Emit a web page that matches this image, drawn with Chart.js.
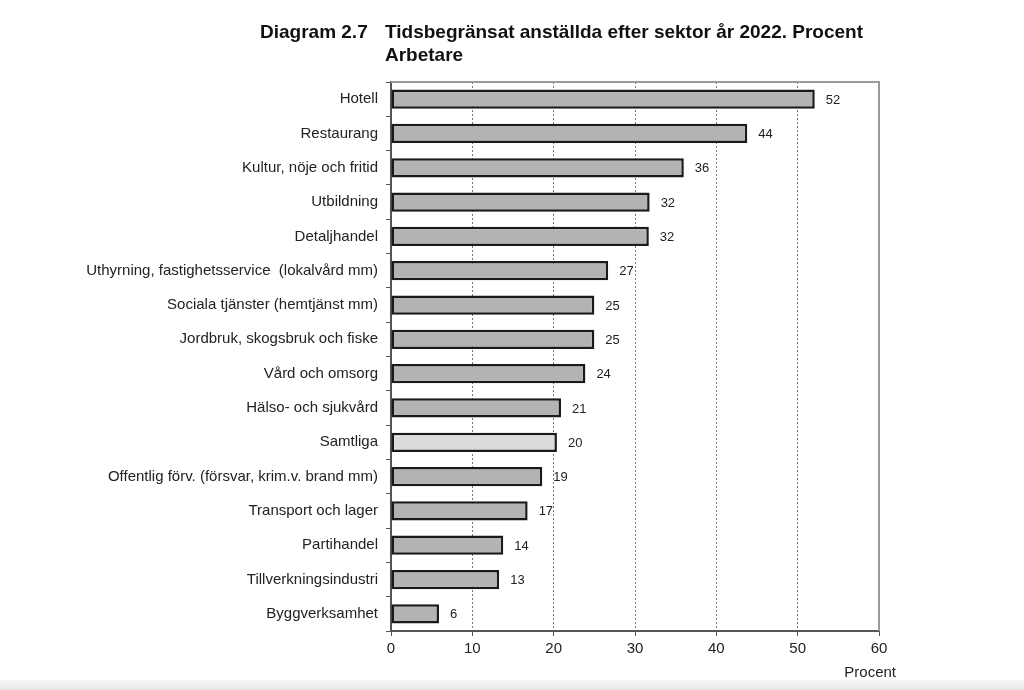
<!DOCTYPE html>
<html lang="sv">
  <head>
    <meta charset="UTF-8" />
    <title>Diagram 2.7</title>
    <style>
      html, body { margin: 0; padding: 0; background: #fff; }
      .wrap { position: relative; width: 1024px; height: 690px; }
      .foot {
        position: absolute; left: 0; right: 0; bottom: 0; height: 10px;
        background: linear-gradient(#f6f6f6, #e6e6e6);
      }
    </style>
  </head>
  <body>
    <div class="wrap">
      <canvas id="mychart" width="1024" height="690"></canvas>
      <div class="foot"></div>
    </div>

    <script src="https://cdn.jsdelivr.net/npm/chart.js@4/dist/chart.umd.min.js"></script>
    <script>
      // sektorer, uppifrån och ned
      const sectors = [
        "Hotell",
        "Restaurang",
        "Kultur, nöje och fritid",
        "Utbildning",
        "Detaljhandel",
        "Uthyrning, fastighetsservice  (lokalvård mm)",
        "Sociala tjänster (hemtjänst mm)",
        "Jordbruk, skogsbruk och fiske",
        "Vård och omsorg",
        "Hälso- och sjukvård",
        "Samtliga",
        "Offentlig förv. (försvar, krim.v. brand mm)",
        "Transport och lager",
        "Partihandel",
        "Tillverkningsindustri",
        "Byggverksamhet",
      ];
      // andel tidsbegränsat anställda, procent (avläst)
      const shares = [52.1, 43.8, 36.0, 31.8, 31.7, 26.7, 25.0, 25.0, 23.9, 20.9, 20.4, 18.6, 16.8, 13.8, 13.3, 5.9];
      const shareLabels = ["52", "44", "36", "32", "32", "27", "25", "25", "24", "21", "20", "19", "17", "14", "13", "6"];
      const xTicks = [0, 10, 20, 30, 40, 50, 60];

      const FONT = "'Liberation Sans', Arial, sans-serif";

      // rubrik, värden vid staplarna, ram och axeltitel
      const extras = {
        id: "extras",
        afterDatasetsDraw(chart) {
          const ctx = chart.ctx;
          const meta = chart.getDatasetMeta(0);
          ctx.save();
          ctx.fillStyle = "#222";
          ctx.font = "13px " + FONT;
          ctx.textBaseline = "middle";
          ctx.textAlign = "left";
          meta.data.forEach((bar, i) => {
            ctx.fillText(shareLabels[i], bar.x + 11, bar.y + 1);
          });
          ctx.restore();
        },
        afterDraw(chart) {
          const ctx = chart.ctx;
          const a = chart.chartArea;
          ctx.save();
          // grå ram uppe och till höger
          ctx.strokeStyle = "#9a9a9a";
          ctx.lineWidth = 2;
          ctx.beginPath();
          ctx.moveTo(a.left, a.top);
          ctx.lineTo(a.right, a.top);
          ctx.lineTo(a.right, a.bottom);
          ctx.stroke();

          ctx.fillStyle = "#111";
          ctx.font = "bold 19px " + FONT;
          ctx.textBaseline = "alphabetic";
          ctx.textAlign = "left";
          ctx.fillText("Diagram 2.7", 260, 38);
          ctx.fillText("Tidsbegränsat anställda efter sektor år 2022. Procent", 385, 38);
          ctx.fillText("Arbetare", 385, 61);

          ctx.fillStyle = "#222";
          ctx.font = "15px " + FONT;
          ctx.textAlign = "right";
          ctx.fillText("Procent", 896, 677);
          ctx.restore();
        },
      };

      new Chart(document.getElementById("mychart"), {
        type: "bar",
        data: {
          labels: sectors,
          datasets: [
            {
              data: shares,
              backgroundColor: sectors.map((s) => (s === "Samtliga" ? "#dcdcdc" : "#b3b3b3")),
              borderColor: "#1a1a1a",
              borderWidth: 2.5,
              borderSkipped: false,
              categoryPercentage: 1,
              barPercentage: 0.56,
            },
          ],
        },
        options: {
          indexAxis: "y",
          responsive: false,
          animation: false,
          layout: { padding: { top: 82, right: 145, bottom: 0, left: 0 } },
          plugins: {
            legend: { display: false },
            tooltip: { enabled: false },
          },
          scales: {
            x: {
              min: 0,
              max: 60,
              afterBuildTicks: (scale) => {
                scale.ticks = xTicks.map((v) => ({ value: v }));
              },
              afterFit: (scale) => {
                scale.height = 59;
              },
              grid: {
                color: (c) => (c.tick.value === 0 || c.tick.value === 60 ? "rgba(0,0,0,0)" : "#777"),
                lineWidth: 1,
                tickLength: 5,
                tickColor: "#555",
                tickBorderDash: [],
              },
              // streckade stödlinjer
              border: { display: true, color: "#555", width: 2, dash: [2, 2] },
              ticks: { color: "#222", font: { family: FONT, size: 15 }, padding: 4 },
            },
            y: {
              afterFit: (scale) => {
                scale.width = 391;
              },
              border: { display: true, color: "#555", width: 2 },
              grid: {
                offset: true,
                drawOnChartArea: false,
                tickLength: 5,
                tickColor: "#555",
              },
              ticks: { color: "#222", font: { family: FONT, size: 15 }, padding: 8 },
            },
          },
        },
        plugins: [extras],
      });
    </script>
  </body>
</html>
